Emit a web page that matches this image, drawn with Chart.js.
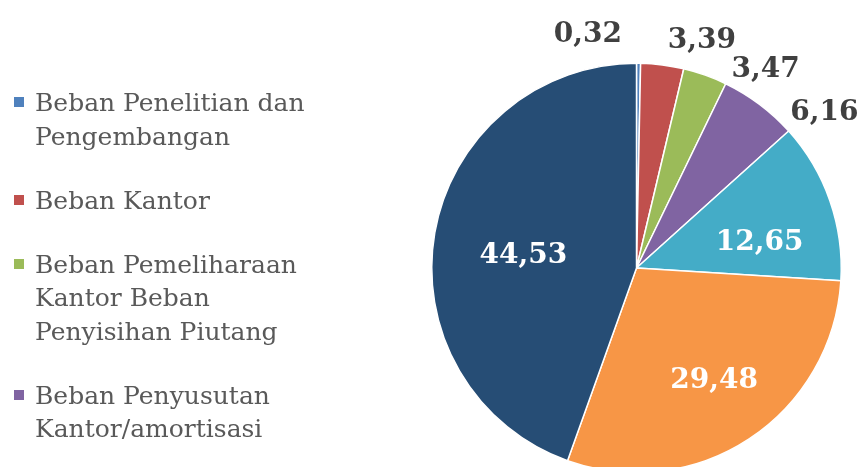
<!DOCTYPE html>
<html>
<head>
<meta charset="utf-8">
<script src="https://cdn.jsdelivr.net/npm/chart.js@4"></script>
<style>
  html, body { margin: 0; padding: 0; background: #fff; overflow: hidden; }
  #wrap { position: relative; width: 861px; height: 467px; overflow: hidden; }
  #pie { position: absolute; left: 0; top: 0; }
  #legend { position: absolute; left: 0; top: 0; font-family: "DejaVu Serif", serif; font-size: 25px; color: #595959; }
  .item { position: absolute; left: 35px; line-height: 33.5px; white-space: nowrap; }
  .box { position: absolute; left: -21px; width: 10px; height: 10px; }
</style>
</head>
<body>
<div id="wrap">
  <canvas id="pie" width="861" height="480"></canvas>
  <div id="legend"></div>
</div>
<script>
// slices, clockwise from 12 o'clock
const values = [0.32, 3.39, 3.47, 6.16, 12.65, 29.48, 44.53];
const valueText = ["0,32", "3,39", "3,47", "6,16", "12,65", "29,48", "44,53"];
const colors = ["#4F81BD", "#C0504D", "#9BBB59", "#8064A2", "#44ACC7", "#F79646", "#264D75"];

// only the first four legend entries are visible in the picture
const legendLines = [
  ["Beban Penelitian dan", "Pengembangan"],
  ["Beban Kantor"],
  ["Beban Pemeliharaan", "Kantor Beban", "Penyisihan Piutang"],
  ["Beban Penyusutan", "Kantor/amortisasi"]
];

// label placement: angle shift off the slice middle (deg) and distance as fraction of radius
const labelShift = [-12.2, 8.6, 13.1, 12.9, 6.0, -1.9, -1.8];
const labelDist  = [1.178, 1.168, 1.168, 1.2, 0.618, 0.656, 0.558];
const labelInside = [false, false, false, false, true, true, true];

// legend built as html text
(function buildLegend() {
  const leg = document.getElementById("legend");
  let top = 86;
  legendLines.forEach((lines, i) => {
    const d = document.createElement("div");
    d.className = "item";
    d.style.top = top + "px";
    const b = document.createElement("span");
    b.className = "box";
    b.style.background = colors[i];
    b.style.top = "11px";
    d.appendChild(b);
    lines.forEach((t, k) => {
      if (k) d.appendChild(document.createElement("br"));
      d.appendChild(document.createTextNode(t));
    });
    leg.appendChild(d);
    top += lines.length * 33.5 + 30.5;
  });
})();

const labelPlugin = {
  id: "sliceLabels",
  afterDatasetsDraw(chart) {
    const ctx = chart.ctx;
    const meta = chart.getDatasetMeta(0);
    ctx.save();
    ctx.font = "bold 28px 'DejaVu Serif', serif";
    ctx.textAlign = "center";
    ctx.textBaseline = "alphabetic";
    meta.data.forEach((arc, i) => {
      const p = arc.getProps(["x", "y", "startAngle", "endAngle", "outerRadius"], true);
      const a = (p.startAngle + p.endAngle) / 2 + labelShift[i] * Math.PI / 180;
      const r = p.outerRadius * labelDist[i];
      const cx = p.x + Math.cos(a) * r;
      const cy = p.y + Math.sin(a) * r;
      ctx.fillStyle = labelInside[i] ? "#FFFFFF" : "#404040";
      ctx.fillText(valueText[i], cx, cy + 10.5);
    });
    ctx.restore();
  }
};

new Chart(document.getElementById("pie"), {
  type: "pie",
  data: {
    labels: valueText,
    datasets: [{
      data: values,
      backgroundColor: colors,
      borderColor: "#FFFFFF",
      borderWidth: 1.5
    }]
  },
  options: {
    responsive: false,
    animation: false,
    layout: { padding: { left: 431, top: 62.5, right: 19, bottom: 6.5 } },
    plugins: {
      legend: { display: false },
      tooltip: { enabled: false }
    }
  },
  plugins: [labelPlugin]
});
</script>
</body>
</html>
